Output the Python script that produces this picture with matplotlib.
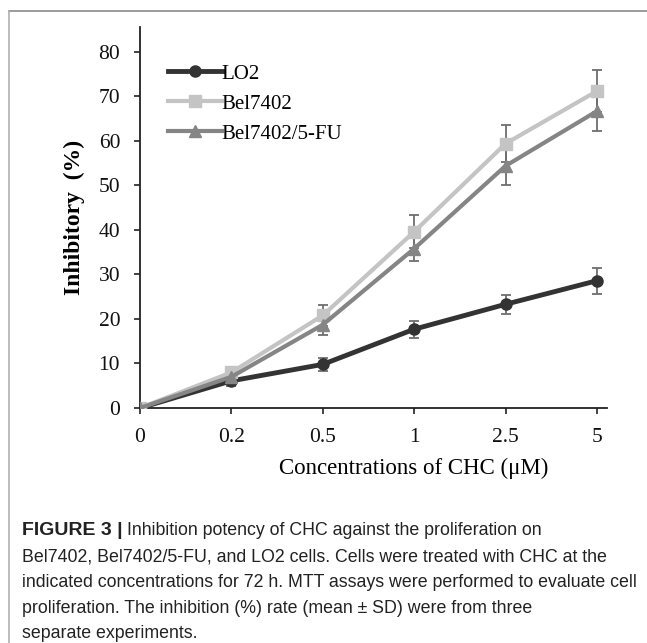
import matplotlib
matplotlib.use("Agg")
import matplotlib.pyplot as plt
from matplotlib.lines import Line2D

conc_labels = ["0", "0.2", "0.5", "1", "2.5", "5"]

lo2 = [0, 6.1, 9.8, 17.7, 23.3, 28.6]
lo2_err = [0, 1.2, 1.5, 1.9, 2.2, 2.9]

bel = [0, 8.0, 20.8, 39.6, 59.4, 71.2]
bel_err = [0, 1.2, 2.4, 3.7, 4.1, 4.8]

bel_fu = [0, 7.0, 18.7, 35.8, 54.4, 66.7]
bel_fu_err = [0, 1.1, 2.2, 2.8, 4.3, 4.5]

caption_lines = [
    "Inhibition potency of CHC against the proliferation on",
    "Bel7402, Bel7402/5-FU, and LO2 cells. Cells were treated with CHC at the",
    "indicated concentrations for 72 h. MTT assays were performed to evaluate cell",
    "proliferation. The inhibition (%) rate (mean \u00b1 SD) were from three",
    "separate experiments.",
]

serif = "Liberation Serif"
sans = "Liberation Sans"

fig = plt.figure(figsize=(6.47, 6.43), dpi=100)
ax = fig.add_axes([140 / 647, 1 - 408 / 643, 467 / 647, 381 / 643])

x = list(range(len(conc_labels)))
series = [
    ("LO2", lo2, lo2_err, "#333333", "o", 3.5, 8),
    ("Bel7402", bel, bel_err, "#c4c4c4", "s", 3.0, 8),
    ("Bel7402/5-FU", bel_fu, bel_fu_err, "#858585", "^", 3.0, 8),
]
for name, vals, err, color, marker, lw, ms in series:
    ax.errorbar(x, vals, yerr=err, ecolor="#6e6e6e", elinewidth=1.3, capsize=3.6,
                capthick=1.3, fmt="none", zorder=2)
    ax.plot(x, vals, color=color, marker=marker, lw=lw, ms=ms, label=name, zorder=3)

ax.set_xlim(0, 5.11)
ax.set_ylim(0, 85.6)
ax.set_yticks(range(0, 81, 10))
ax.set_xticks(x)
ax.set_xticklabels(conc_labels)
for s in ("top", "right"):
    ax.spines[s].set_visible(False)
for s in ("left", "bottom"):
    ax.spines[s].set_linewidth(1.3)
    ax.spines[s].set_color("#222222")
ax.tick_params(direction="out", length=4.3, width=1.2, colors="#222222",
               labelsize=15.5, labelcolor="#111111")
ax.tick_params(axis="x", pad=10)
ax.tick_params(axis="y", pad=10)
for lab in ax.get_xticklabels() + ax.get_yticklabels():
    lab.set_fontfamily(serif)

ax.set_ylabel("Inhibitory  (%)", fontsize=17, fontweight="bold", fontfamily=serif)
ax.yaxis.set_label_coords(-66 / 467, 0.5)
ax.yaxis.label.set_va("center")
ax.set_xlabel("Concentrations of CHC (\u03bcM)", fontsize=16.5, fontfamily=serif)
ax.xaxis.set_label_coords(0.585, -60 / 381)
ax.xaxis.label.set_va("center")

ax.legend(loc="upper left", bbox_to_anchor=(0.019, 0.952), frameon=False,
          handlelength=2.6, handletextpad=0.0, labelspacing=0.5,
          prop={"family": serif, "size": 15})

# frame
fig.add_artist(Line2D([9 / 647, 1], [1 - 11 / 643] * 2, transform=fig.transFigure,
                      color="#8a8a8a", lw=1.2))
fig.add_artist(Line2D([9 / 647] * 2, [0, 1 - 11 / 643], transform=fig.transFigure,
                      color="#b0b0b0", lw=1.2))

# caption
x0 = 22 / 647
ys = [535, 561, 587, 613, 638]
fs = 12.8
bold = fig.text(x0, 1 - ys[0] / 643, "FIGURE 3 |", fontsize=14, fontweight="bold",
                fontfamily=sans, va="baseline", color="#222222")
fig.canvas.draw()
bb = bold.get_window_extent(fig.canvas.get_renderer())
fig.text(bb.x1 / fig.bbox.width + 0.006, 1 - ys[0] / 643, caption_lines[0],
         fontsize=fs, fontfamily=sans, va="baseline", color="#222222")
for line, y in zip(caption_lines[1:], ys[1:]):
    fig.text(x0, 1 - y / 643, line, fontsize=fs, fontfamily=sans,
             va="baseline", color="#222222")

fig.savefig("out.png", dpi=100)
